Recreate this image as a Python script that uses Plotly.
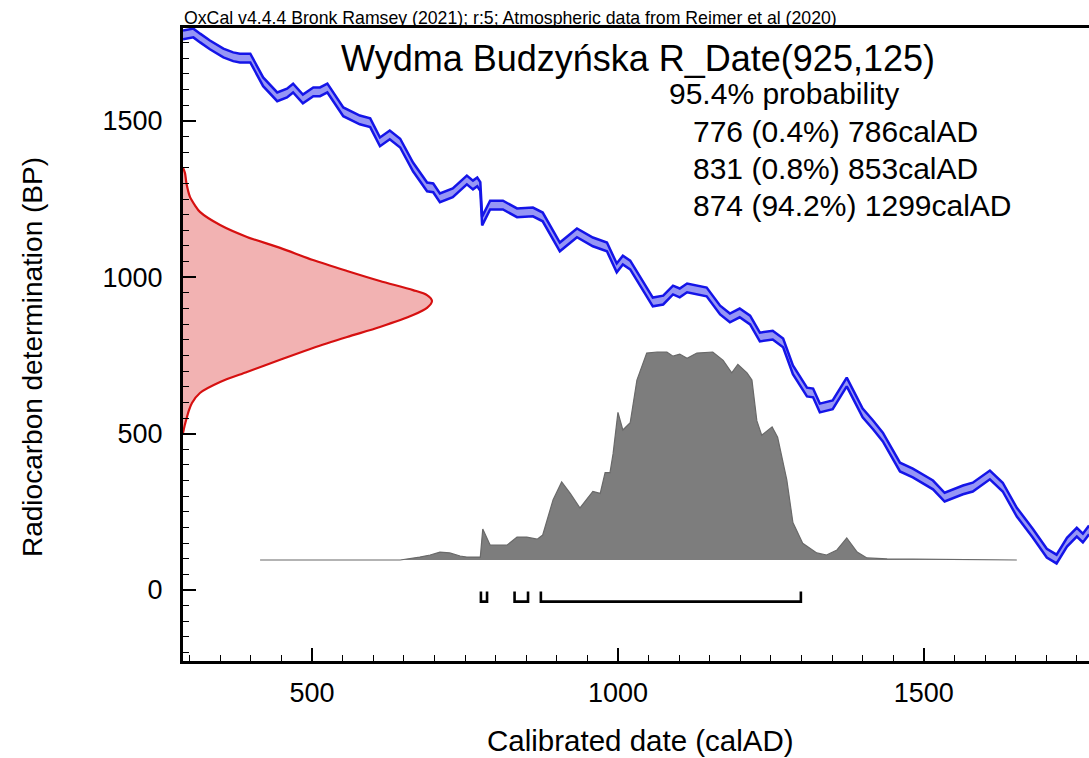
import plotly.graph_objects as go

# ---------------- data ----------------
# Calibration curve (IntCal20), mid-line: calendar year AD vs radiocarbon age BP
curve_ad = [289, 306, 317, 333, 355, 371, 382, 399, 420, 443, 459, 469, 485, 502, 513, 525, 551, 578, 595, 611,
            627, 644, 665, 688, 698, 709, 730, 753, 763, 770, 775, 778, 791, 812, 835, 861, 877, 905, 933, 959,
            982, 998, 1008, 1020, 1057, 1074, 1090, 1101, 1113, 1145, 1167, 1183, 1199, 1216, 1232, 1253, 1270, 1286, 1309, 1319,
            1330, 1351, 1374, 1400, 1417, 1433, 1461, 1482, 1515, 1534, 1564, 1580, 1608, 1629, 1652, 1678, 1701, 1717, 1734, 1750,
            1760, 1770]
curve_bp = [1775, 1781, 1765, 1743, 1717, 1705, 1701, 1701, 1625, 1577, 1589, 1605, 1570, 1593, 1593, 1605, 1529, 1503, 1494, 1433,
            1455, 1429, 1353, 1289, 1286, 1254, 1270, 1311, 1295, 1305, 1290, 1180, 1231, 1231, 1206, 1209, 1193, 1097, 1142, 1113,
            1097, 1030, 1055, 1039, 921, 927, 959, 950, 966, 953, 895, 870, 886, 863, 809, 815, 790, 704, 633, 630,
            582, 592, 665, 566, 528, 489, 393, 374, 336, 297, 320, 329, 368, 329, 249, 182, 118, 99, 153, 185,
            166, 192]
curve_err = 14  # half width of the 1-sigma band, BP

# Calibrated (posterior) probability, relative height
post_ad = [415, 644, 676, 693, 709, 725, 742, 753, 770, 775, 779, 791, 802, 819, 835, 851, 868, 877, 894, 908,
           922, 938, 959, 971, 979, 987, 992, 1000, 1008, 1020, 1031, 1047, 1064, 1080, 1090, 1101, 1113, 1129, 1155, 1172,
           1186, 1196, 1211, 1219, 1227, 1235, 1252, 1261, 1276, 1286, 1302, 1325, 1341, 1358, 1374, 1391, 1407, 1440, 1652]
post_p = [0, 0, 0.014, 0.024, 0.038, 0.034, 0.019, 0.014, 0.014, 0.014, 0.149, 0.072, 0.072, 0.072, 0.11, 0.11, 0.10, 0.12, 0.29, 0.375,
          0.32, 0.25, 0.33, 0.32, 0.42, 0.42, 0.51, 0.71, 0.625, 0.66, 0.865, 0.995, 1.0, 1.0, 0.98, 0.99, 0.97, 0.995, 1.0, 0.96,
          0.90, 0.94, 0.90, 0.865, 0.67, 0.60, 0.64, 0.59, 0.385, 0.18, 0.08, 0.034, 0.024, 0.048, 0.106, 0.038, 0.01, 0.005, 0]

# Radiocarbon measurement likelihood (925 +/- 125 BP), relative height
lik_bp = [1350, 1333, 1300, 1257, 1230, 1209, 1167, 1129, 1094, 1055, 1020, 988, 959, 943, 924, 902, 879, 841, 809, 774,
          736, 697, 665, 630, 598, 575, 553, 530, 502]
lik_p = [0, 0.008, 0.014, 0.028, 0.048, 0.068, 0.149, 0.257, 0.390, 0.522, 0.659, 0.791, 0.924, 0.980, 1.0, 0.980, 0.924, 0.791, 0.659, 0.522,
         0.390, 0.257, 0.149, 0.068, 0.036, 0.024, 0.016, 0.008, 0]

# 95.4% ranges
range_start = [776, 831, 874]
range_end = [786, 853, 1299]
range_pct = ["0.4", "0.8", "94.2"]

x_ticks = [500, 1000, 1500]
y_ticks = [0, 500, 1000, 1500]

title_text = "Wydma Budzyńska R_Date(925,125)"
header_text = "OxCal v4.4.4 Bronk Ramsey (2021); r:5; Atmospheric data from Reimer et al (2020)"

# ---------------- layout constants ----------------
X_RANGE = [289, 1770]
Y_RANGE = [-227, 1797]
LIK_SCALE = 407      # years at peak of likelihood
POST_BASE = 96       # BP baseline of posterior
POST_SCALE = 665     # BP height of posterior peak
BR_TOP, BR_BOT = -5, -37
FONT = "Liberation Sans, Arial, sans-serif"

W, H = 1089, 758
ML, MR, MT, MB = 183, 0, 28, 97
PW, PH = W - ML - MR, H - MT - MB

def px(xpix):
    return (xpix - ML) / PW

def py(ypix):
    return (H - MB - ypix) / PH

fig = go.Figure()

# likelihood (red)
lx = [X_RANGE[0] + p * LIK_SCALE for p in lik_p]
fig.add_trace(go.Scatter(x=lx, y=lik_bp, mode="lines", fill="toself",
                         fillcolor="rgb(242,178,178)",
                         line=dict(color="rgb(214,16,16)", width=2.2, shape="spline", smoothing=0.8),
                         hoverinfo="skip", showlegend=False))

# posterior (grey)
py_post = [POST_BASE + p * POST_SCALE for p in post_p]
fig.add_trace(go.Scatter(x=post_ad, y=py_post, mode="lines", fill="toself",
                         fillcolor="rgb(125,125,125)", line=dict(color="rgb(105,105,105)", width=1.2),
                         hoverinfo="skip", showlegend=False))

# calibration curve band (blue)
lower = [b - curve_err for b in curve_bp]
upper = [b + curve_err for b in curve_bp]
fig.add_trace(go.Scatter(x=curve_ad, y=lower, mode="lines",
                         line=dict(color="rgb(20,20,232)", width=2.5),
                         hoverinfo="skip", showlegend=False))
fig.add_trace(go.Scatter(x=curve_ad, y=upper, mode="lines", fill="tonexty",
                         fillcolor="rgb(150,150,245)",
                         line=dict(color="rgb(20,20,232)", width=2.5),
                         hoverinfo="skip", showlegend=False))

# range brackets
bx, by = [], []
for s, e in zip(range_start, range_end):
    bx += [s, s, e, e, None]
    by += [BR_TOP, BR_BOT, BR_BOT, BR_TOP, None]
fig.add_trace(go.Scatter(x=bx, y=by, mode="lines", line=dict(color="black", width=2.6),
                         hoverinfo="skip", showlegend=False))

# annotations
ann = []
ann.append(dict(text=header_text, xref="paper", yref="paper", x=px(182), y=py(18),
                xanchor="left", yanchor="middle", showarrow=False,
                font=dict(family=FONT, size=17.7, color="black")))
ann.append(dict(text=title_text, xref="paper", yref="paper", x=px(638), y=py(58),
                xanchor="center", yanchor="middle", showarrow=False,
                font=dict(family=FONT, size=36, color="black")))
ann.append(dict(text="95.4% probability", xref="paper", yref="paper", x=px(667), y=py(93),
                xanchor="left", yanchor="middle", showarrow=False,
                font=dict(family=FONT, size=30, color="black")))
for i, (s, e, p) in enumerate(zip(range_start, range_end, range_pct)):
    ann.append(dict(text=f"{s} ({p}%) {e}calAD", xref="paper", yref="paper", x=px(691), y=py(131 + i * 37),
                    xanchor="left", yanchor="middle", showarrow=False,
                    font=dict(family=FONT, size=30, color="black")))
ann.append(dict(text="Radiocarbon determination (BP)", xref="paper", yref="paper", x=px(32), y=py(357),
                xanchor="center", yanchor="middle", textangle=-90, showarrow=False,
                font=dict(family=FONT, size=28, color="black")))
ann.append(dict(text="Calibrated date (calAD)", xref="paper", yref="paper", x=px(640), y=py(740),
                xanchor="center", yanchor="middle", showarrow=False,
                font=dict(family=FONT, size=29.5, color="black")))

fig.update_layout(
    width=W, height=H,
    margin=dict(l=ML, r=MR, t=MT, b=MB, pad=0),
    paper_bgcolor="white", plot_bgcolor="white",
    showlegend=False,
    annotations=ann,
    xaxis=dict(range=X_RANGE, showgrid=False, zeroline=False,
               showline=True, linecolor="black", linewidth=3, mirror=True,
               ticks="inside", ticklen=13, tickwidth=2, tickcolor="black",
               tickvals=x_ticks, ticktext=[str(v) for v in x_ticks],
               tickfont=dict(family=FONT, size=27, color="black"),
               ticklabelstandoff=6,
               minor=dict(ticks="inside", ticklen=6, tickwidth=1, tickcolor="black", dtick=50, tick0=0, showgrid=False)),
    yaxis=dict(range=Y_RANGE, showgrid=False, zeroline=False,
               showline=True, linecolor="black", linewidth=3, mirror=False,
               ticks="inside", ticklen=13, tickwidth=2, tickcolor="black",
               tickvals=y_ticks, ticktext=[str(v) for v in y_ticks],
               tickfont=dict(family=FONT, size=27, color="black"),
               ticklabelstandoff=12,
               minor=dict(ticks="inside", ticklen=6, tickwidth=1, tickcolor="black", dtick=50, tick0=0, showgrid=False)),
)

fig.write_html("out.html", config={"displayModeBar": False},
               post_script="document.body.style.margin='0';document.body.style.overflow='hidden';")
